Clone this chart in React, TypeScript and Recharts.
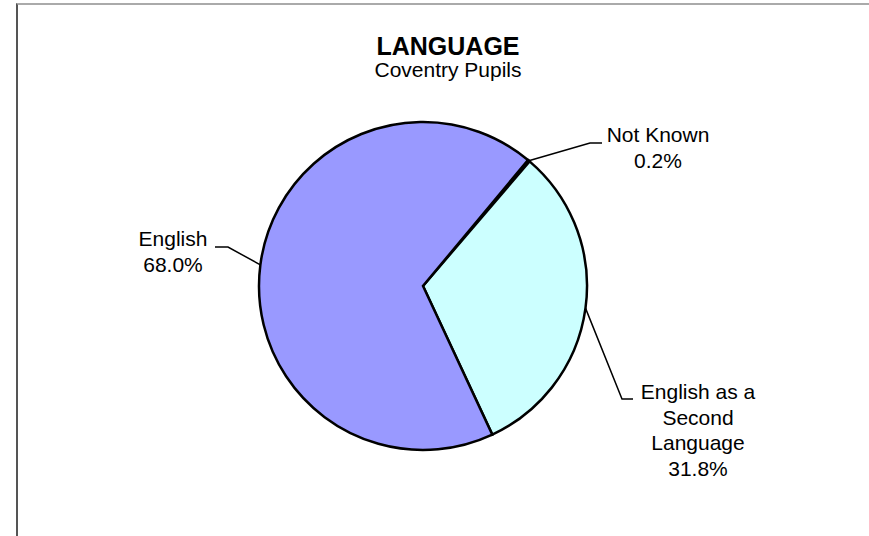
import React from "react";
import { PieChart, Pie, Cell } from "recharts";

const categories = ["Not Known", "English as a Second Language", "English"];
const values = [0.2, 31.8, 68.0];
const colors = ["#000000", "#CCFFFF", "#9999FF"];

// wrapped label text for each slice
const labelLines: Record<string, string[]> = {
  "Not Known": ["Not Known"],
  "English as a Second Language": ["English as a", "Second", "Language"],
  English: ["English"],
};

// leader elbow / end and text placement
const labelPos: Record<string, { ex: number; ey: number; hx: number; tx: number; ty: number }> = {
  "Not Known": { ex: 590, ey: 143, hx: 602, tx: 658, ty: 142 },
  "English as a Second Language": { ex: 622, ey: 399, hx: 633, tx: 698, ty: 399 },
  English: { ex: 228, ey: 247, hx: 215, tx: 173, ty: 246 },
};

const data = categories.map((name, i) => ({ name, value: values[i] }));

const FONT = "'Liberation Sans', Arial, sans-serif";
const RAD = Math.PI / 180;

const renderLabel = (props: any) => {
  const { cx, cy, midAngle, outerRadius, name, value } = props;
  const pos = labelPos[name];
  if (!pos) return null;
  const sx = cx + outerRadius * Math.cos(-midAngle * RAD);
  const sy = cy + outerRadius * Math.sin(-midAngle * RAD);
  const lines = [...labelLines[name], `${Number(value).toFixed(1)}%`];
  return (
    <g>
      <polyline
        points={`${sx},${sy} ${pos.ex},${pos.ey} ${pos.hx},${pos.ey}`}
        fill="none"
        stroke="#000"
        strokeWidth={1.5}
      />
      <text
        x={pos.tx}
        y={pos.ty}
        textAnchor="middle"
        fontFamily={FONT}
        fontSize={21}
        fill="#000"
      >
        {lines.map((l, i) => (
          <tspan key={i} x={pos.tx} dy={i === 0 ? 0 : 25.5}>
            {l}
          </tspan>
        ))}
      </text>
    </g>
  );
};

export default function App() {
  return (
    <div
      style={{
        position: "absolute",
        left: 0,
        top: 0,
        width: 869,
        height: 536,
        background: "#fff",
        overflow: "hidden",
      }}
    >
      <div
        style={{
          position: "absolute",
          left: 16,
          top: 3,
          width: 869,
          height: 540,
          borderLeft: "2px solid #555",
          borderTop: "2px solid #aaa",
        }}
      />
      <div
        style={{
          position: "absolute",
          left: 0,
          width: 896,
          top: 32,
          textAlign: "center",
          fontFamily: FONT,
          fontWeight: "bold",
          fontSize: 25,
          lineHeight: "28px",
        }}
      >
        LANGUAGE
      </div>
      <div
        style={{
          position: "absolute",
          left: 0,
          width: 896,
          top: 58,
          textAlign: "center",
          fontFamily: FONT,
          fontSize: 21,
          lineHeight: "24px",
        }}
      >
        Coventry Pupils
      </div>
      <div style={{ position: "absolute", left: 0, top: 0 }}>
        <PieChart width={869} height={536} margin={{ top: 0, right: 0, bottom: 0, left: 0 }}>
          <Pie
            data={data}
            dataKey="value"
            nameKey="name"
            cx={423}
            cy={286}
            outerRadius={164}
            startAngle={50.2}
            endAngle={-309.8}
            stroke="#000"
            strokeWidth={2.5}
            label={renderLabel}
            labelLine={false}
            isAnimationActive={false}
          >
            {data.map((d, i) => (
              <Cell key={d.name} fill={colors[i]} />
            ))}
          </Pie>
        </PieChart>
      </div>
    </div>
  );
}
